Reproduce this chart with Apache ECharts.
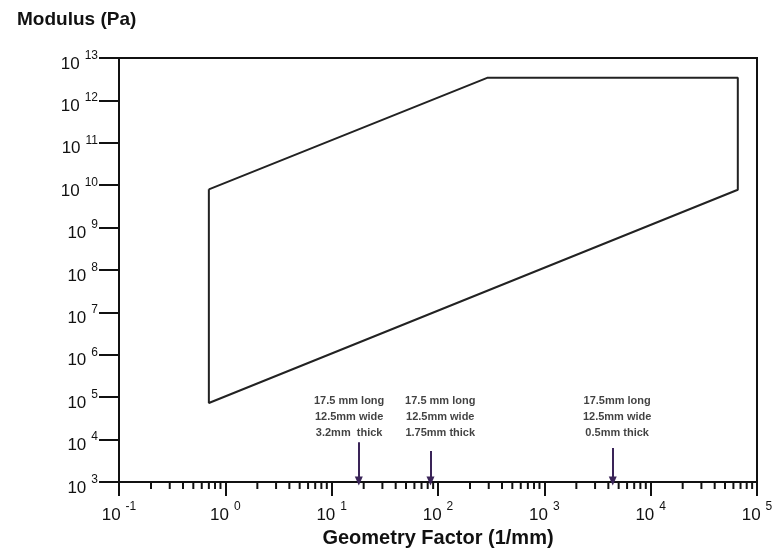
<!DOCTYPE html>
<html>
<head>
<meta charset="utf-8">
<script src="https://cdn.jsdelivr.net/npm/echarts@6/dist/echarts.min.js"></script>
<style>
    html, body { margin: 0; padding: 0; background: #fff; }
    #myChart { width: 774px; height: 554px; }
</style>
</head>
<body>
<div id="myChart"></div>
<script>
    // outline of the measurable region (log-log)
    const regionX = [0.7, 290, 66000, 66000, 0.7, 0.7];
    const regionY = [8e9, 3.4e12, 3.4e12, 7.8e9, 7.3e4, 8e9];

    // sample geometries marked with arrows
    const arrowX = [18, 85, 4400];
    const arrowTop = [8.7e3, 5.4e3, 6.3e3];
    const labelX = [14.6, 105, 4840];
    const labelY = [9.5e3, 9.5e3, 9.5e3];
    const labelText = [
        ['17.5 mm long', '12.5mm wide', '3.2mm  thick'],
        ['17.5 mm long', '12.5mm wide', '1.75mm thick'],
        ['17.5mm long', '12.5mm wide', '0.5mm thick']
    ];

    // minor ticks on x axis (2..9 in each decade)
    const minorX = [];
    for (let e = -1; e < 5; e++) {
        for (let m = 2; m <= 9; m++) minorX.push(m * Math.pow(10, e));
    }

    const font = 'Liberation Sans, Arial, sans-serif';
    const supRich = {
        b: { fontSize: 17, fontFamily: font, color: '#111', padding: [12, 0, 0, 0] },
        s: { fontSize: 12, fontFamily: font, color: '#111', padding: [0, 0, 5, 5] }
    };
    function powLabel(v) {
        const e = Math.round(Math.log10(v));
        return '{b|10}{s|' + e + '}';
    }

    const myChart = echarts.init(document.getElementById('myChart'));
    myChart.setOption({
        animation: false,
        title: {
            text: 'Modulus (Pa)',
            left: 12,
            top: 5,
            textStyle: { fontFamily: font, fontSize: 19, fontWeight: 'bold', color: '#111' }
        },
        grid: {
            left: 119, right: 17, top: 58, bottom: 72,
            outerBoundsMode: 'none',
            show: true, borderColor: '#111', borderWidth: 2
        },
        xAxis: {
            type: 'log',
            logBase: 10,
            min: 0.1,
            max: 1e5,
            interval: 1,
            name: 'Geometry Factor (1/mm)',
            nameLocation: 'middle',
            nameGap: 46,
            nameTextStyle: { fontFamily: font, fontSize: 20, fontWeight: 'bold', color: '#111' },
            axisLine: { lineStyle: { color: '#111', width: 2 } },
            axisTick: { inside: false, length: 14, lineStyle: { color: '#111', width: 2 } },
            axisLabel: { margin: 13, formatter: powLabel, rich: supRich },
            splitLine: { show: false }
        },
        yAxis: {
            type: 'log',
            logBase: 10,
            min: 1e3,
            max: 1e13,
            interval: 1,
            axisLine: { lineStyle: { color: '#111', width: 2 } },
            axisTick: { length: 20, lineStyle: { color: '#111', width: 2 } },
            axisLabel: { margin: 21, formatter: powLabel, rich: supRich },
            splitLine: { show: false }
        },
        series: [
            {
                type: 'line',
                data: regionX.map((x, i) => [x, regionY[i]]),
                symbol: 'none',
                lineStyle: { color: '#222', width: 2 },
                z: 3
            },
            {
                // minor ticks below the x axis
                type: 'custom',
                clip: false,
                silent: true,
                data: minorX.map(x => [x, 1e3]),
                renderItem: function (params, api) {
                    const p = api.coord([api.value(0), api.value(1)]);
                    return {
                        type: 'line',
                        shape: { x1: p[0], y1: p[1], x2: p[0], y2: p[1] + 7 },
                        style: { stroke: '#111', lineWidth: 2 }
                    };
                }
            },
            {
                // arrows pointing at the axis
                type: 'line',
                data: [],
                markLine: {
                    silent: true,
                    symbol: ['none', 'triangle'],
                    symbolSize: [8, 9],
                    label: { show: false },
                    lineStyle: { color: '#3a2458', width: 2, type: 'solid' },
                    data: arrowX.map((x, i) => [
                        { coord: [x, arrowTop[i]] },
                        { coord: [x, 1.05e3] }
                    ])
                }
            },
            {
                // geometry descriptions
                type: 'scatter',
                symbolSize: 0,
                data: labelX.map((x, i) => [x, labelY[i]]),
                label: {
                    show: true,
                    position: 'top',
                    distance: 0,
                    fontFamily: font,
                    fontSize: 11,
                    fontWeight: 'bold',
                    lineHeight: 16,
                    color: '#111',
                    formatter: p => labelText[p.dataIndex].join('\n')
                }
            }
        ]
    });
</script>
</body>
</html>
